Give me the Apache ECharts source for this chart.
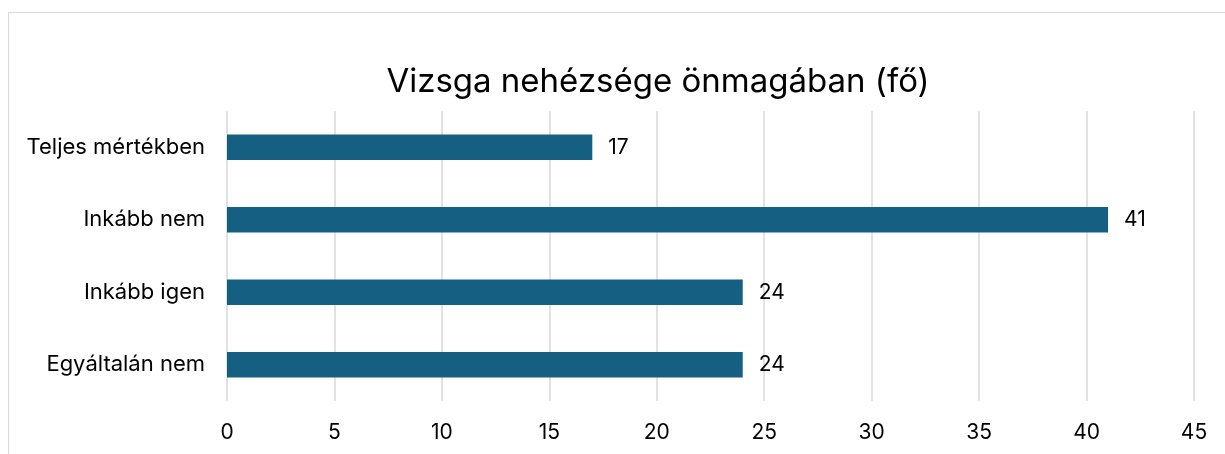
<!DOCTYPE html>
<html>
<head>
<meta charset="utf-8">
<script src="https://cdn.jsdelivr.net/npm/echarts@6/dist/echarts.min.js"></script>
<style>
html,body{margin:0;padding:0;overflow:hidden;background:#fff;}
#frame{position:absolute;left:8px;top:12px;width:1400px;height:600px;border:1.5px solid #d9d9d9;box-sizing:border-box;}
#chart{position:absolute;left:0;top:0;width:1225px;height:454px;}
</style>
</head>
<body>
<div id="frame"></div>
<div id="chart"></div>
<script>
const titleText = 'Vizsga nehézsége önmagában (fő)';
const categories = ['Teljes mértékben', 'Inkább nem', 'Inkább igen', 'Egyáltalán nem'];
const values = [17, 41, 24, 24];
const xTicks = {min: 0, max: 45, interval: 5};

const chart = echarts.init(document.getElementById('chart'), null, {renderer: 'canvas'});
const font = 'Inter, "Open Sans", "Noto Sans", sans-serif';
chart.setOption({
  animation: false,
  backgroundColor: 'transparent',
  title: {
    text: titleText,
    left: 653, top: 61, textAlign: 'center',
    textStyle: {fontFamily: font, fontSize: 33, fontWeight: 'normal', color: '#000'}
  },
  grid: {left: 227, right: 31, top: 111, bottom: 53, containLabel: false},
  xAxis: {
    type: 'value', min: xTicks.min, max: xTicks.max, interval: xTicks.interval,
    axisLine: {show: false}, axisTick: {show: false},
    axisLabel: {margin: 21, fontFamily: font, fontSize: 21, color: '#000'},
    splitLine: {show: true, lineStyle: {color: '#d9d9d9', width: 1.5}}
  },
  yAxis: {
    type: 'category', data: categories, inverse: true,
    axisLine: {show: false}, axisTick: {show: false},
    axisLabel: {margin: 22, fontFamily: font, fontSize: 22, color: '#000'}
  },
  series: [{
    type: 'bar', data: values, barWidth: '35%',
    itemStyle: {color: '#156082'},
    label: {show: true, position: 'right', distance: 16, fontFamily: font, fontSize: 21, color: '#000'}
  }]
});
</script>
</body>
</html>
